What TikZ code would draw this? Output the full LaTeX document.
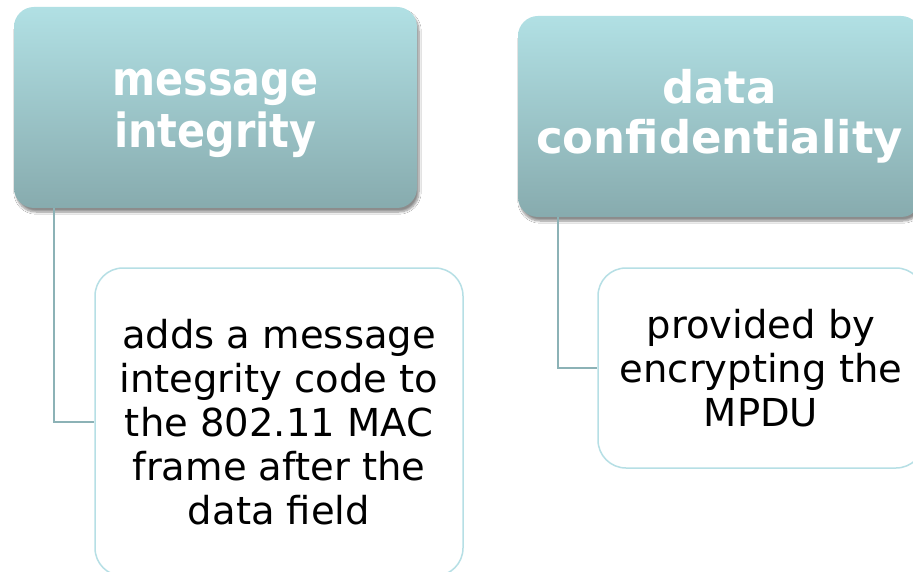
\documentclass[tikz,border=0pt]{standalone}
\usepackage{fontspec}
\setmainfont{DejaVu Sans}
\newfontfamily\headfontA{DejaVu Sans}[FakeStretch=0.88]
\usetikzlibrary{shadows.blur}
\definecolor{headtop}{RGB}{177,224,228}
\definecolor{headbot}{RGB}{135,171,174}
\definecolor{linkcol}{RGB}{140,178,182}
\definecolor{leafedge}{RGB}{182,223,229}
\tikzset{
  headbox/.style={rounded corners=20pt, minimum width=403pt, minimum height=201pt,
    top color=headtop, bottom color=headbot, draw=none, text=white, align=center,
    blur shadow={shadow xshift=2pt, shadow yshift=-4pt, shadow blur steps=8, shadow opacity=45}},
  leafbox/.style={rounded corners=28pt, draw=leafedge, line width=1.5pt, fill=white,
    align=center, text=black, font=\fontsize{38.5}{44}\selectfont},
  link/.style={draw=linkcol, line width=1.5pt}
}
\begin{document}
\begin{tikzpicture}[x=1pt,y=-1pt]
\path[use as bounding box, clip] (0,0) rectangle (913,572);
\fill[white] (0,0) rectangle (913,572);

% top-level headings
\node[headbox, font=\headfontA\bfseries\fontsize{47}{52}\selectfont] (integ) at (215.5,107.5)
  {\rule{0pt}{38pt}message\\integrity};
\node[headbox, font=\bfseries\fontsize{45}{50}\selectfont] (conf) at (719.5,116.5)
  {data\\confidentiality};

% detail boxes
\node[leafbox, minimum width=368pt, minimum height=308pt] (integd) at (279,422)
  {adds a message\\integrity code to\\the 802.11 MAC\\frame after the\\data field};
\node[leafbox, minimum width=326pt, minimum height=200pt] (confd) at (761,368)
  {provided by\\encrypting the\\MPDU};

% elbow connectors
\draw[link] (integ.south west) ++(40,0) |- (integd.west);
\draw[link] (conf.south west) ++(40,0) |- (confd.west);
\end{tikzpicture}
\end{document}
